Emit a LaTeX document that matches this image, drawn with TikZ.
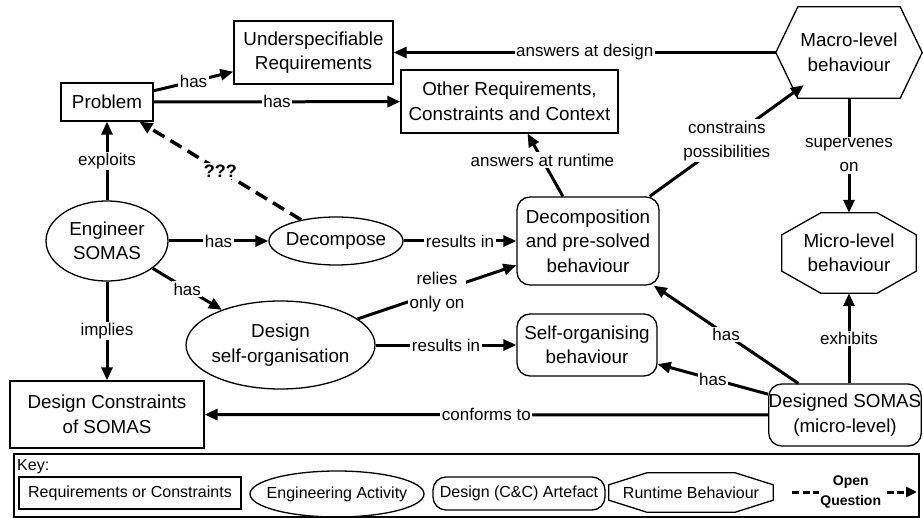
\documentclass[tikz,border=0pt]{standalone}
\usepackage{fontspec}
\setmainfont{Liberation Sans}
\usetikzlibrary{arrows.meta}
\usetikzlibrary{shapes.geometric}
\tikzset{every node/.style={font=\fontsize{18.8}{24.5}\selectfont, align=center, inner sep=0pt},
 req/.style={draw, line width=1.3pt},
 act/.style={draw, ellipse, line width=1.3pt, inner xsep=-15pt},
 art/.style={draw, line width=1.3pt, rounded corners=13pt},
 rel/.style={line width=3pt, -{Triangle[length=13pt,width=11pt]}},
 open/.style={rel, line width=3.5pt, dash pattern=on 13pt off 7pt},
 lbl/.style={fill=white, inner sep=1.5pt, font=\fontsize{17}{24}\selectfont},
 keytext/.style={font=\fontsize{16}{18}\selectfont},
 }
\newcommand{\hexframe}[2]{\draw[line width=1.3pt] (#1.west) -- ([xshift=#2]#1.north west) -- ([xshift=-#2]#1.north east) -- (#1.east) -- ([xshift=-#2]#1.south east) -- ([xshift=#2]#1.south west) -- cycle;}
\newcommand{\octframe}[3]{\draw[line width=1.3pt] ([xshift=#2]#1.north west) -- ([xshift=-#2]#1.north east) -- ([yshift=-#3]#1.north east) -- ([yshift=#3]#1.south east) -- ([xshift=-#2]#1.south east) -- ([xshift=#2]#1.south west) -- ([yshift=#3]#1.south west) -- ([yshift=-#3]#1.north west) -- cycle;}

\begin{document}
\begin{tikzpicture}[x=1pt, y=-1pt]
    \useasboundingbox (0,0) rectangle (923,518);
    % requirements and runtime behaviour
    \node[req, minimum width=92pt, minimum height=38pt] (prob) at (107,102) {Problem};
    \node[req, minimum width=159pt, minimum height=63pt] (under) at (313.5,52.5) {Underspecifiable\\Requirements};
    \node[req, minimum width=217pt, minimum height=63pt] (other) at (509.5,101.5) {Other Requirements,\\Constraints and Context};
    \node[minimum width=146pt, minimum height=91pt] (macro) at (849,52.5) {Macro-level\\behaviour};
    \hexframe{macro}{22pt}
    \node[minimum width=134pt, minimum height=80pt] (micro) at (849,253) {Micro-level\\behaviour};
    \octframe{micro}{39pt}{22pt}
    \node[req, minimum width=194pt, minimum height=67pt] (dcons) at (107,414.5) {Design Constraints\\of SOMAS};
    % activities and artefacts
    \node[act, minimum width=122pt, minimum height=80pt] (eng) at (107,241) {Engineer\\SOMAS};
    \node[act, minimum width=134pt, minimum height=48pt] (decomp) at (336,241) {Decompose};
    \node[act, minimum width=189pt, minimum height=88pt] (selforg) at (280.5,345) {Design\\self-organisation};
    \node[art, minimum width=142pt, minimum height=88pt] (presolved) at (588,241) {Decomposition\\and pre-solved\\behaviour};
    \node[art, minimum width=140pt, minimum height=62pt] (sobehav) at (587,345) {Self-organising\\behaviour};
    \node[art, minimum width=152pt, minimum height=62pt] (dsomas) at (845,415) {Designed SOMAS\\(micro-level)};

    \draw[rel] (prob) -- node[lbl] {has} (under);
    \draw[rel] (prob) -- node[lbl] {has} (other);
    \draw[rel] (macro) -- node[lbl] {answers at design} (under);
    \draw[rel] (eng) -- node[lbl] {exploits} (prob);
    \draw[open] (decomp) -- node[lbl, font=\bfseries\fontsize{18}{24}\selectfont] {???} (prob);
    \draw[rel] (eng) -- node[lbl] {has} (decomp);
    \draw[rel] (eng) -- node[lbl] {has} (selforg);
    \draw[rel] (eng) -- node[lbl] {implies} (dcons);
    \draw[rel] (decomp) -- node[lbl] {results in} (presolved);
    \draw[rel] (selforg) -- node[lbl] {relies\\only on} (presolved);
    \draw[rel] (selforg) -- node[lbl] {results in} (sobehav);
    \draw[rel] (presolved) -- node[lbl, pos=0.58] {answers at runtime} (other);
    \draw[rel] (presolved) -- node[lbl] {constrains\\possibilities} ([xshift=28pt, yshift=13pt]macro.south west);
    \draw[rel] (macro) -- node[lbl] {supervenes\\on} (micro);
    \draw[rel] (dsomas.north -| micro) -- node[lbl] {exhibits} (micro);
    \draw[rel] (dsomas) -- node[lbl] {has} (presolved);
    \draw[rel] (dsomas) -- node[lbl] {has} (sobehav);
    \draw[rel] (dsomas) -- node[lbl] {conforms to} (dcons);

    % key
    \draw[line width=1.3pt] (14,454) rectangle (919,517);
    \node[keytext, anchor=west] (keytitle) at (17,467) {Key:};
    \node[req, keytext, minimum width=222pt, minimum height=32pt] (kreq) at (130,493) {Requirements or Constraints};
    \node[act, keytext, minimum width=174pt, minimum height=46pt] (kact) at (337,494) {Engineering Activity};
    \node[art, keytext, minimum width=172pt, minimum height=33pt] (kart) at (519,493.5) {Design (C\&C) Artefact};
    \node[keytext, minimum width=164pt, minimum height=39pt] (krun) at (691,492.5) {Runtime Behaviour};
    \octframe{krun}{38pt}{12pt}
    \coordinate (kopen) at (792,492);
    \coordinate (kopenend) at (917,492);
    \draw[open, line width=3pt, dash pattern=on 7pt off 3.5pt, -{Triangle[length=11pt,width=10pt]}] (kopen) -- node[lbl, font=\bfseries\fontsize{14}{20}\selectfont, pos=0.47] {Open\\Question} (kopenend);
\end{tikzpicture}
\end{document}
